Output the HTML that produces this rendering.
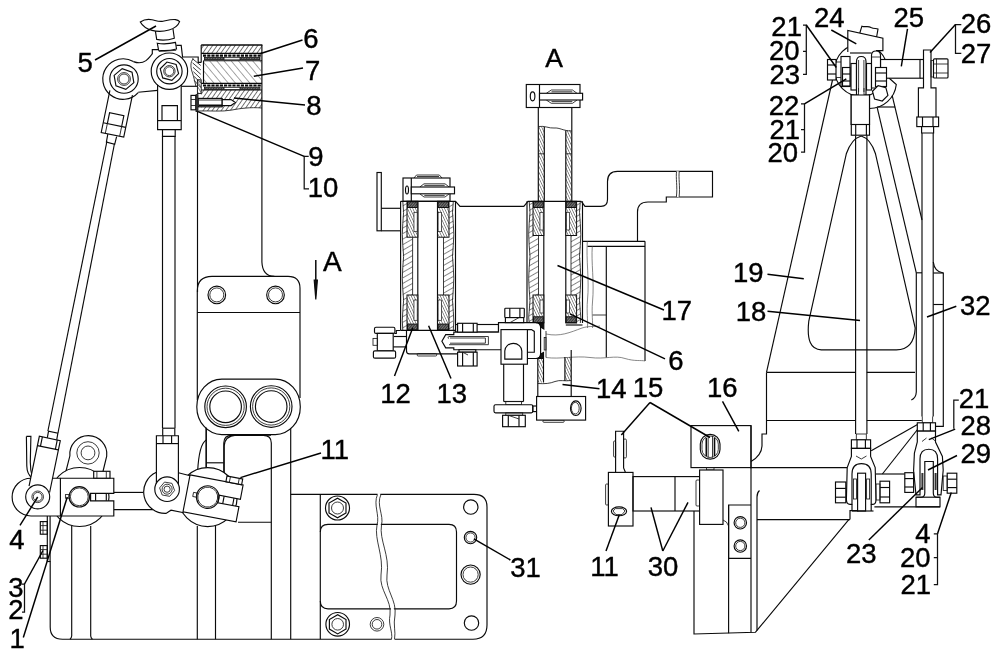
<!DOCTYPE html>
<html><head><meta charset="utf-8"><title>Drawing</title>
<style>
html,body{margin:0;padding:0;background:#fff;}
svg{display:block;will-change:transform}
svg *{vector-effect:none}
.d line,.d path,.d circle,.d rect,.d ellipse,.d polygon{fill:none;stroke:#0a0a0a;stroke-width:1.15;stroke-linecap:butt;stroke-linejoin:miter}
.d .t{stroke-width:.85;stroke:#1a1a1a}
.d .g{stroke-width:.7;stroke:#555}
.d .w{fill:#fff}
.d .k{fill:#111}
.d .ld{stroke-width:1.45;stroke:#000}
.d .bk{stroke-width:1.25;stroke:#111}
.d .hk{stroke-width:1.6}
.d text{font-family:"Liberation Sans",Arial,sans-serif;fill:#000;stroke:#000;stroke-width:.4}
</style></head><body>
<svg class="d" width="1000" height="652" viewBox="0 0 1000 652">
<defs>
<pattern id="h1" width="3.7" height="3.7" patternUnits="userSpaceOnUse" patternTransform="rotate(35)"><line x1="0" y1="0" x2="0" y2="3.7" style="stroke:#111;stroke-width:1.15"/></pattern>
<pattern id="h2" width="5.5" height="5.5" patternUnits="userSpaceOnUse" patternTransform="rotate(-40)"><line x1="0" y1="0" x2="0" y2="5.5" style="stroke:#222;stroke-width:.8"/></pattern>
<pattern id="h3" width="2.6" height="2.6" patternUnits="userSpaceOnUse" patternTransform="rotate(-30)"><line x1="0" y1="0" x2="0" y2="2.6" style="stroke:#111;stroke-width:.9"/></pattern>
<pattern id="h4" width="4.8" height="4.8" patternUnits="userSpaceOnUse" patternTransform="rotate(60)"><line x1="0" y1="0" x2="0" y2="4.8" style="stroke:#111;stroke-width:1"/></pattern>
<pattern id="h6" width="2" height="2" patternUnits="userSpaceOnUse" patternTransform="rotate(40)"><rect width="2" height="2" style="fill:#777;stroke:none"/><line x1="0" y1="0" x2="0" y2="2" style="stroke:#000;stroke-width:1.1"/></pattern>
<pattern id="h5" width="2.4" height="2.4" patternUnits="userSpaceOnUse" patternTransform="rotate(-25)"><line x1="0" y1="0" x2="0" y2="2.4" style="stroke:#111;stroke-width:.9"/></pattern>
</defs>
<rect x="0" y="0" width="1000" height="652" style="fill:#fff;stroke:none"/>
<line x1="261.9" y1="45" x2="261.9" y2="262"/>
<path d="M261.9 262 Q262.5 276.3 274.4 276.3"/>
<line x1="197.5" y1="111" x2="197.5" y2="292"/>
<path d="M197.3 400 V291 Q197.3 276.3 212 276.3 H288 Q300 276.3 300 288.3 V398"/>
<line x1="197.3" y1="312.5" x2="300" y2="312.5"/>
<circle cx="216.8" cy="294.9" r="8.8"/>
<circle cx="216.8" cy="294.9" r="7" class="t"/>
<circle cx="275.5" cy="294.9" r="8.8"/>
<circle cx="275.5" cy="294.9" r="7" class="t"/>
<line x1="206.3" y1="428" x2="206.3" y2="470"/>
<line x1="290.7" y1="428" x2="290.7" y2="639.2"/>
<path d="M223.8 474 V443 Q223.8 435.3 231.8 435.3 H263.3 Q271.3 435.3 271.3 443 V639.2"/>
<line x1="206.3" y1="462.8" x2="223.8" y2="462.8"/>
<path d="M206.3 440 Q199 444 197.6 472"/>
<rect x="196.8" y="379.1" width="103.5" height="55.5" rx="25" ry="27.7" class="w"/>
<circle cx="225.6" cy="406.8" r="20.8"/>
<circle cx="225.6" cy="406.8" r="18.6" class="t"/>
<circle cx="225.6" cy="406.8" r="15.8"/>
<circle cx="271.2" cy="406.5" r="20.8"/>
<circle cx="271.2" cy="406.5" r="18.6" class="t"/>
<circle cx="271.2" cy="406.5" r="15.8"/>
<path d="M50.2 561 V627 Q50.2 639.2 62.5 639.2 H473 Q487 639.2 487 625 V507 Q487 494.4 474 494.4 H290.7"/>
<line x1="71.7" y1="526" x2="71.7" y2="636"/>
<line x1="90.7" y1="526" x2="90.7" y2="636"/>
<path d="M71.7 636 Q71.5 638 70 639.2"/>
<path d="M90.7 636 Q90.9 638 92.4 639.2"/>
<line x1="197.3" y1="526" x2="197.3" y2="639.2"/>
<line x1="215.5" y1="526" x2="215.5" y2="639.2"/>
<line x1="238" y1="522.2" x2="271.3" y2="522.2"/>
<line x1="320.3" y1="494.4" x2="320.3" y2="639.2"/>
<path d="M320.3 532 Q320.3 524.4 328 524.4 H449 Q456.5 524.4 456.5 532 V601 Q456.5 608.8 449 608.8 H328 Q320.3 608.8 320.3 601"/>
<circle cx="337.5" cy="508" r="12"/>
<path d="M345.99 512.9 L337.5 517.8 L329.01 512.9 L329.01 503.1 L337.5 498.2 L345.99 503.1 Z"/>
<circle cx="337.5" cy="508" r="6" class="t"/>
<circle cx="337.7" cy="624.3" r="11.8"/>
<path d="M346.01 629.1 L337.7 633.9 L329.39 629.1 L329.39 619.5 L337.7 614.7 L346.01 619.5 Z"/>
<circle cx="337.7" cy="624.3" r="5.8" class="t"/>
<circle cx="377" cy="624.3" r="6.8" class="t"/>
<circle cx="377" cy="624.3" r="4.8" class="t"/>
<circle cx="470.8" cy="507" r="7.2"/>
<circle cx="470.5" cy="537.5" r="6.2"/>
<circle cx="470.5" cy="537.5" r="4.6" class="t"/>
<circle cx="470.6" cy="574.6" r="9.6"/>
<circle cx="470.6" cy="574.6" r="7.6" class="t"/>
<circle cx="471.5" cy="623" r="7.2"/>
<path d="M379.2 493 C374.5 505 382 515 379.2 525 C376.5 540 387 555 384 575 C382 590 394.5 600 392.5 615 C390.5 625 394.5 632 393 640.5" style="fill:none;stroke:#fff;stroke-width:3"/>
<path d="M377.5 494.4 C373 505 380 515 377 525 C374 540 384 555 381 575 C379 590 392 600 390 615 C388 625 393 632 391.5 639.2" class="t"/>
<path d="M381 494.4 C376 505 384 515 381.5 525 C379 540 390 555 387 575 C385 590 397 600 395 615 C393 625 396 632 394.5 639.2" class="t"/>
<rect x="201.2" y="45" width="60.8" height="8.4" style="fill:url(#h1);stroke:none"/>
<rect x="203.5" y="60.8" width="58" height="22.6" style="fill:url(#h2);stroke:none"/>
<path d="M201.2 90 H262 V108 C250 107 240 108.5 232 110 C222 112 210 110.5 201.2 111 Z" style="fill:url(#h1);stroke:none"/>
<path d="M262 108 C250 107 240 108.5 232 110 C222 112 210 110.5 198.5 111" class="t"/>
<line x1="201.2" y1="45" x2="262.4" y2="45" class="hk"/>
<line x1="201.2" y1="45" x2="201.2" y2="62.4"/>
<line x1="201.2" y1="53.4" x2="262" y2="53.4"/>
<line x1="203.5" y1="60.7" x2="262" y2="60.7"/>
<line x1="201.2" y1="83.4" x2="262" y2="83.4"/>
<line x1="201.2" y1="90" x2="262" y2="90"/>
<line x1="203.5" y1="60.7" x2="203.5" y2="83.4"/>
<line x1="203" y1="55.7" x2="261" y2="55.7" class="hk" style="stroke-width:2.2" stroke-dasharray="3.2 1"/>
<rect x="204.5" y="57.4" width="19.5" height="2.2" style="fill:url(#h6);stroke:#111;stroke-width:.8"/>
<rect x="240" y="57.4" width="20" height="2.2" style="fill:url(#h6);stroke:#111;stroke-width:.8"/>
<line x1="224" y1="57.6" x2="240" y2="57.6" class="t"/>
<line x1="224" y1="59.8" x2="240" y2="59.8" class="t"/>
<line x1="203" y1="85.5" x2="261" y2="85.5" class="hk" style="stroke-width:2.2" stroke-dasharray="3.2 1"/>
<rect x="204.5" y="87.2" width="19.5" height="2.2" style="fill:url(#h6);stroke:#111;stroke-width:.8"/>
<rect x="240" y="87.2" width="20" height="2.2" style="fill:url(#h6);stroke:#111;stroke-width:.8"/>
<line x1="224" y1="87.4" x2="240" y2="87.4" class="t"/>
<line x1="224" y1="89.6" x2="240" y2="89.6" class="t"/>
<rect x="198.2" y="98.4" width="24" height="8.4" class="w"/>
<line x1="199" y1="100" x2="222" y2="100" class="t"/>
<line x1="199" y1="105.3" x2="222" y2="105.3" class="hk"/>
<path d="M222.2 99.6 H231 L235.4 102.6 L231 105.6 H222.2 Z" class="w"/>
<rect x="191" y="95.4" width="4.8" height="14.4" class="w"/>
<line x1="191" y1="99.5" x2="195.8" y2="99.5" class="t"/>
<line x1="191" y1="105.5" x2="195.8" y2="105.5" class="t"/>
<rect x="196" y="94.6" width="2" height="17" style="fill:#444;stroke:#111;stroke-width:.8"/>
<path d="M182 57 H198.2 V62.4 H201.2"/>
<path d="M193.4 58.6 C190 62 190.5 68 192.5 73 C194 78 195 82 195.8 86" class="t"/>
<line x1="192.2" y1="58.5" x2="200.8" y2="65.5" class="t"/>
<line x1="192.6" y1="62.9" x2="200.8" y2="69.9" class="t"/>
<line x1="193" y1="67.3" x2="200.8" y2="74.3" class="t"/>
<line x1="193.4" y1="71.7" x2="200.8" y2="78.7" class="t"/>
<line x1="193.8" y1="76.1" x2="200.8" y2="83.1" class="t"/>
<line x1="194.2" y1="80.5" x2="200.8" y2="87.5" class="t"/>
<rect x="197.4" y="79.8" width="3.8" height="13.8" style="fill:url(#h3);stroke:#111;stroke-width:.9"/>
<line x1="181.4" y1="86.3" x2="197.4" y2="86.3"/>
<path d="M140.3 22 C144 19.5 148 19 152 19.8 C156 20.6 159 22 163 21.2 C167 20.4 171 19.2 175.5 19.6 C177.5 19.9 178.8 20.6 179.6 21.6 C178 26 174 28.6 169 30 C163 31.8 157 31.8 152 30.4 C146.5 28.8 142.5 26 140.3 22 Z" class="w"/>
<path d="M155.4 31.2 L156.7 39.4 Q165 41.2 174.3 38.2 L173 29"/>
<path d="M157.3 43.3 Q166 44.8 175.5 42.4 L176.5 49 Q167 51.6 158.6 50.2 Z"/>
<path d="M152.3 54 V49.6 H158.6"/>
<path d="M176.3 45.4 H181.2 L182.6 57.4"/>
<line x1="158.8" y1="51.5" x2="176.2" y2="50.3" class="t"/>
<path d="M47.3 437.9 L48.5 431.3 L57.9 433.2 L56.7 439.9"/>
<line x1="106.9" y1="141.5" x2="47.9" y2="431"/>
<line x1="114.5" y1="143.5" x2="58" y2="433"/>
<path d="M107.8 134.2 L106.4 142 L114.7 144.4 L116.6 136.6"/>
<g transform="rotate(11.66 124 79)">
<path d="M112.5 93 V136 H135.5 V93" class="w"/>
<line x1="112.5" y1="126" x2="135.5" y2="126"/>
<path d="M116.7 126 V115 H131.3 V126"/>
<line x1="116.7" y1="126" x2="116.7" y2="136" class="t"/>
<line x1="131.3" y1="126" x2="131.3" y2="136" class="t"/>
</g>
<path d="M133.4 61.6 A20.3 20.3 0 1 0 138.2 92.6"/>
<circle cx="124" cy="79" r="14.2" class="w"/>
<path d="M133.87 82.59 L125.82 89.34 L115.96 85.75 L114.13 75.41 L122.18 68.66 L132.04 72.25 Z"/>
<circle cx="124" cy="79" r="6.4" class="t"/>
<circle cx="124" cy="79" r="5" class="t"/>
<path d="M133.4 61.6 C137 63 142 63.4 146 60.6 C149 58.4 150.5 55.6 152.3 54"/>
<line x1="138.2" y1="92.2" x2="157.6" y2="90.4"/>
<path d="M157.6 84 V129.6 H181.2 V84" class="w"/>
<line x1="157.6" y1="120.6" x2="181.2" y2="120.6"/>
<path d="M162 120.6 V105.6 H177.4 V120.6"/>
<path d="M162.5 129.6 V136.3 H175.2 V129.6"/>
<line x1="162.5" y1="136.3" x2="162.5" y2="428.2"/>
<line x1="175" y1="136.3" x2="175" y2="428.2"/>
<circle cx="169.4" cy="71.2" r="18.2" class="w"/>
<circle cx="169.4" cy="71.2" r="12.7"/>
<path d="M178.58 73.66 L171.86 80.38 L162.68 77.92 L160.22 68.74 L166.94 62.02 L176.12 64.48 Z"/>
<circle cx="169.4" cy="71.2" r="5.7" class="t"/>
<circle cx="169.4" cy="71.2" r="4.4" class="t"/>
<line x1="113.8" y1="492.4" x2="143.5" y2="492.4"/>
<line x1="113.8" y1="509.6" x2="153" y2="509.6"/>
<path d="M65.5 473 L69.9 455.8 A18.5 18.5 0 1 1 106.7 456.2 L102.6 473" class="w"/>
<circle cx="88" cy="452.9" r="11.2" class="t"/>
<circle cx="88" cy="452.9" r="6.9" class="t"/>
<circle cx="79.5" cy="497" r="29.5" class="w"/>
<path d="M60.4 478.2 H31 A18.9 18.9 0 0 0 31 516 H60.4" class="w"/>
<path d="M60.4 478.2 H113.8 V493.3 H90.6 V500.8 H113.8 V516 H60.4 Z" class="w"/>
<line x1="95.6" y1="493.3" x2="95.6" y2="500.8"/>
<line x1="106.3" y1="493.3" x2="106.3" y2="500.8"/>
<rect x="93.7" y="471.3" width="16.3" height="6.9" class="w"/>
<line x1="96.9" y1="471.3" x2="96.9" y2="478.2" class="t"/>
<line x1="106.3" y1="471.3" x2="106.3" y2="478.2" class="t"/>
<circle cx="79.3" cy="496.8" r="10.2"/>
<circle cx="79.3" cy="496.8" r="8.9" class="t"/>
<rect x="65.4" y="494.6" width="3.6" height="3.6" class="t"/>
<path d="M26.4 436.4 H30.9 L30.3 462 Q30.2 470 32.5 477.6 M26.4 436.4 L26.8 466 Q27 474 32 478"/>
<g transform="rotate(11.66 124 79)">
<path d="M113.3 497 V446 H134.7 V499" class="w"/>
<line x1="113.3" y1="455.5" x2="134.7" y2="455.5"/>
<line x1="116.4" y1="446" x2="116.4" y2="455.5"/>
<line x1="131.6" y1="446" x2="131.6" y2="455.5"/>
</g>
<circle cx="37.7" cy="496.8" r="12" class="w"/>
<circle cx="37.7" cy="496.8" r="5.8" class="t"/>
<circle cx="37.7" cy="496.8" r="4.4" class="t"/>
<line x1="47.3" y1="516" x2="47.3" y2="561.5"/>
<line x1="50.1" y1="516" x2="50.1" y2="561.5"/>
<line x1="47.3" y1="561.5" x2="50.1" y2="561.5"/>
<rect x="40.3" y="521.6" width="7" height="12.6"/>
<line x1="40.3" y1="525.6" x2="47.3" y2="525.6" class="t"/>
<line x1="40.3" y1="530.2" x2="47.3" y2="530.2" class="t"/>
<line x1="43" y1="521.6" x2="43" y2="534.2" class="t"/>
<rect x="40.3" y="545.6" width="7" height="12.6"/>
<line x1="40.3" y1="549.6" x2="47.3" y2="549.6" class="t"/>
<line x1="40.3" y1="554.2" x2="47.3" y2="554.2" class="t"/>
<line x1="43" y1="545.6" x2="43" y2="558.2" class="t"/>
<line x1="206.1" y1="427.5" x2="206.1" y2="468.4"/>
<path d="M224.2 476 V446 Q224.6 436 236 435.1 H271"/>
<circle cx="207.7" cy="497.1" r="29.5" class="w"/>
<path d="M156.4 472.3 A21.5 21.5 0 0 0 162.5 513.4 L171 510 L183.8 512.8 L190.1 475.7 L178.4 472.8 Z" style="fill:#fff;stroke:none"/>
<path d="M156.4 472.3 A21.5 21.5 0 0 0 166 513.4 L171 510.2 L183.8 512.8"/>
<line x1="178.4" y1="472.8" x2="190.1" y2="475.7"/>
<path d="M156.4 484 V435.7 H178.4 V484" class="w"/>
<line x1="156.4" y1="443.6" x2="178.4" y2="443.6"/>
<line x1="163" y1="435.7" x2="163" y2="443.6"/>
<line x1="171.6" y1="435.7" x2="171.6" y2="443.6"/>
<line x1="162.7" y1="428.2" x2="174.8" y2="428.2"/>
<line x1="162.7" y1="428.2" x2="162.7" y2="435.7"/>
<line x1="174.8" y1="428.2" x2="174.8" y2="435.7"/>
<circle cx="167.1" cy="489.2" r="12.3" class="w"/>
<path d="M174.58 490.52 L169.7 496.34 L162.21 495.02 L159.62 487.88 L164.5 482.06 L171.99 483.38 Z" class="t"/>
<circle cx="167.1" cy="489.2" r="5" class="t"/>
<circle cx="167.1" cy="489.2" r="3.1" class="t"/>
<g transform="rotate(10.8 207.7 497.1)">
<path d="M186.2 478.6 H240.2 V493.1 H218.7 V500.70000000000005 H240.2 V516.1 H186.2 Z" class="w"/>
<line x1="223.7" y1="493.1" x2="223.7" y2="500.7"/>
<line x1="233.7" y1="493.1" x2="233.7" y2="500.7"/>
<rect x="222.7" y="472.8" width="16" height="5.8" class="w"/>
<line x1="226.2" y1="472.8" x2="226.2" y2="478.6" class="t"/>
<line x1="235.2" y1="472.8" x2="235.2" y2="478.6" class="t"/>
<circle cx="207.7" cy="497.1" r="11.3"/>
<circle cx="207.7" cy="497.1" r="10" class="t"/>
<rect x="192.9" y="495.1" width="3.8" height="4.2" class="t"/>
</g>
<line x1="582.5" y1="241.3" x2="645" y2="241.3"/>
<line x1="587.5" y1="246.3" x2="645" y2="246.3"/>
<line x1="645" y1="241.3" x2="645" y2="361"/>
<line x1="606.3" y1="246.3" x2="606.3" y2="357.5"/>
<line x1="592.5" y1="315" x2="606.3" y2="315" class="t"/>
<path d="M587.3 241.3 C586 260 589.5 280 587.5 300 C586.5 312 588 320 587.5 328" class="g"/>
<path d="M592.3 246.3 C591 262 594.5 282 592.5 302 C591.5 314 593 322 592.5 328" class="g"/>
<path d="M546 334 C560 337 570 332.5 582 328 C590 325.5 596 327 600 326" class="g"/>
<path d="M546 357.5 C560 359.5 575 355.5 590 357.5 C605 359.5 615 355 625 358.5 C635 361.5 641 360 645 361" class="g"/>
<line x1="546" y1="331" x2="546" y2="357.5" class="t"/>
<rect x="544.2" y="337.5" width="1.8" height="12.5" class="t"/>
<path d="M581.3 201.3 L585 206.3 H601 Q607.5 206.3 607.5 199.5 V181.5 Q607.5 171.3 617.5 171.3 H712.5 V197 H666.3 V202 H648 Q637.5 202 637.5 212 V241.3"/>
<path d="M677.8 171.3 C676.8 178 678.8 186 677.6 197" style="fill:none;stroke:#fff;stroke-width:3"/>
<path d="M676.6 171.3 C675.6 178 677.6 186 676.4 197" class="t"/>
<path d="M679.3 171.3 C678.3 178 680.3 186 679.1 197" class="t"/>
<line x1="538.3" y1="107.5" x2="538.3" y2="201.3"/>
<line x1="571.8" y1="107.5" x2="571.8" y2="201.3"/>
<rect x="538.3" y="127" width="6" height="74.3" style="fill:url(#h5);stroke:none"/>
<rect x="565.8" y="130" width="6" height="71.3" style="fill:url(#h5);stroke:none"/>
<line x1="544.3" y1="127" x2="544.3" y2="201.3"/>
<line x1="565.8" y1="130.5" x2="565.8" y2="201.3"/>
<path d="M538.3 126.5 C545 125.5 549 128.5 554 128 C560 127.5 563 131 571.8 131" class="t"/>
<line x1="538.3" y1="153.8" x2="544.3" y2="153.8" class="t"/>
<line x1="565.8" y1="153.8" x2="571.8" y2="153.8" class="t"/>
<rect x="526.3" y="84.5" width="53.7" height="23" class="w"/>
<line x1="539.5" y1="84.5" x2="539.5" y2="107.5"/>
<ellipse cx="532.6" cy="96.3" rx="2.3" ry="4.5"/>
<path d="M546.3 93.3 L551.3 90 H572.5 L577 93.3" class="t"/>
<line x1="551.5" y1="91.8" x2="572.3" y2="91.8" class="t"/>
<path d="M546.3 100 L551.3 103.3 H572.5 L577 100" class="t"/>
<line x1="551.5" y1="101.6" x2="572.3" y2="101.6" class="t"/>
<rect x="539.5" y="93.3" width="43.1" height="6.7" class="w"/>
<rect x="377" y="172.5" width="4.3" height="58.3"/>
<line x1="381.3" y1="208.3" x2="400.5" y2="208.3"/>
<line x1="381.3" y1="230.8" x2="400.5" y2="230.8"/>
<path d="M414 178 L416.5 175 H439.3 L442 178" class="t"/>
<line x1="417" y1="176.5" x2="439" y2="176.5" class="t"/>
<rect x="403" y="178" width="47" height="23.3" class="w"/>
<line x1="411.3" y1="178" x2="411.3" y2="201.3"/>
<ellipse cx="407" cy="190" rx="1.5" ry="4"/>
<path d="M419.8 187 L424 183.8 H445 L449.2 187" class="t"/>
<line x1="424.3" y1="185.4" x2="444.7" y2="185.4" class="t"/>
<path d="M419.8 193.8 L424 197 H445 L449.2 193.8" class="t"/>
<line x1="424.3" y1="195.4" x2="444.7" y2="195.4" class="t"/>
<rect x="411.3" y="187" width="43.2" height="6.8" class="w"/>
<rect x="402.8" y="201.3" width="9.8" height="129" style="fill:url(#h4);stroke:none"/>
<rect x="443.5" y="201.3" width="9.8" height="129" style="fill:url(#h4);stroke:none"/>
<path d="M402.8 201.3 Q404.4 212.3 402.8 223.3 Q401.8 234.3 402.8 245.3 Q404.4 256.3 402.8 267.3 Q401.8 278.3 402.8 289.3 Q404.4 300.3 402.8 311.3 Q401.8 320.8 402.8 330.3" class="t"/>
<path d="M453.3 201.3 Q451.7 212.3 453.3 223.3 Q454.3 234.3 453.3 245.3 Q451.7 256.3 453.3 267.3 Q454.3 278.3 453.3 289.3 Q451.7 300.3 453.3 311.3 Q454.3 320.8 453.3 330.3" class="t"/>
<line x1="400.6" y1="201.3" x2="400.6" y2="330.3"/>
<line x1="455.5" y1="201.3" x2="455.5" y2="330.3"/>
<line x1="417.8" y1="201.3" x2="417.8" y2="330.3"/>
<line x1="437.5" y1="201.3" x2="437.5" y2="330.3"/>
<line x1="412.6" y1="237.2" x2="412.6" y2="295" class="t"/>
<line x1="443.5" y1="237.2" x2="443.5" y2="295" class="t"/>
<rect x="407" y="201.3" width="10.8" height="35.9" style="fill:#fff;stroke:none"/>
<rect x="407" y="201.3" width="10.8" height="35.9" style="fill:url(#h5);stroke:none"/>
<rect x="407" y="201.3" width="10.8" height="35.9" style="stroke-width:1;stroke:#111"/>
<rect x="413.96" y="212.3" width="3.24" height="19.4" style="fill:#fff;stroke:#111;stroke-width:.7"/>
<rect x="407.5" y="201.8" width="9.8" height="5.7" style="fill:url(#h6);stroke:#111;stroke-width:1"/>
<rect x="437.5" y="201.3" width="11.5" height="35.9" style="fill:#fff;stroke:none"/>
<rect x="437.5" y="201.3" width="11.5" height="35.9" style="fill:url(#h5);stroke:none"/>
<rect x="437.5" y="201.3" width="11.5" height="35.9" style="stroke-width:1;stroke:#111"/>
<rect x="438.1" y="212.3" width="3.45" height="19.4" style="fill:#fff;stroke:#111;stroke-width:.7"/>
<rect x="438" y="201.8" width="10.5" height="5.7" style="fill:url(#h6);stroke:#111;stroke-width:1"/>
<rect x="407" y="295" width="10.8" height="35.3" style="fill:#fff;stroke:none"/>
<rect x="407" y="295" width="10.8" height="35.3" style="fill:url(#h5);stroke:none"/>
<rect x="407" y="295" width="10.8" height="35.3" style="stroke-width:1;stroke:#111"/>
<rect x="413.96" y="300" width="3.24" height="20.3" style="fill:#fff;stroke:#111;stroke-width:.7"/>
<rect x="407.5" y="324.1" width="9.8" height="5.7" style="fill:url(#h6);stroke:#111;stroke-width:1"/>
<rect x="437.5" y="295" width="11.5" height="35.3" style="fill:#fff;stroke:none"/>
<rect x="437.5" y="295" width="11.5" height="35.3" style="fill:url(#h5);stroke:none"/>
<rect x="437.5" y="295" width="11.5" height="35.3" style="stroke-width:1;stroke:#111"/>
<rect x="438.1" y="300" width="3.45" height="20.3" style="fill:#fff;stroke:#111;stroke-width:.7"/>
<rect x="438" y="324.1" width="10.5" height="5.7" style="fill:url(#h6);stroke:#111;stroke-width:1"/>
<rect x="529.2" y="201.3" width="9.3" height="121.7" style="fill:url(#h4);stroke:none"/>
<rect x="571" y="201.3" width="9.3" height="121.7" style="fill:url(#h4);stroke:none"/>
<path d="M529.2 201.3 Q530.8 212.3 529.2 223.3 Q528.2 234.3 529.2 245.3 Q530.8 256.3 529.2 267.3 Q528.2 278.3 529.2 289.3 Q530.8 300.3 529.2 311.3 Q528.2 317.15 529.2 323" class="t"/>
<path d="M580.3 201.3 Q578.7 212.3 580.3 223.3 Q581.3 234.3 580.3 245.3 Q578.7 256.3 580.3 267.3 Q581.3 278.3 580.3 289.3 Q578.7 300.3 580.3 311.3 Q581.3 317.15 580.3 323" class="t"/>
<line x1="527" y1="201.3" x2="527" y2="323"/>
<line x1="582.5" y1="201.3" x2="582.5" y2="323"/>
<line x1="543.8" y1="201.3" x2="543.8" y2="323"/>
<line x1="565.8" y1="201.3" x2="565.8" y2="323"/>
<line x1="538.5" y1="235.5" x2="538.5" y2="295" class="t"/>
<line x1="571" y1="235.5" x2="571" y2="295" class="t"/>
<rect x="533" y="201.3" width="10.8" height="34.2" style="fill:#fff;stroke:none"/>
<rect x="533" y="201.3" width="10.8" height="34.2" style="fill:url(#h5);stroke:none"/>
<rect x="533" y="201.3" width="10.8" height="34.2" style="stroke-width:1;stroke:#111"/>
<rect x="539.96" y="212.3" width="3.24" height="17.7" style="fill:#fff;stroke:#111;stroke-width:.7"/>
<rect x="533.5" y="201.8" width="9.8" height="5.7" style="fill:url(#h6);stroke:#111;stroke-width:1"/>
<rect x="565.8" y="201.3" width="10.8" height="34.2" style="fill:#fff;stroke:none"/>
<rect x="565.8" y="201.3" width="10.8" height="34.2" style="fill:url(#h5);stroke:none"/>
<rect x="565.8" y="201.3" width="10.8" height="34.2" style="stroke-width:1;stroke:#111"/>
<rect x="566.4" y="212.3" width="3.24" height="17.7" style="fill:#fff;stroke:#111;stroke-width:.7"/>
<rect x="566.3" y="201.8" width="9.8" height="5.7" style="fill:url(#h6);stroke:#111;stroke-width:1"/>
<rect x="533" y="295" width="10.8" height="28" style="fill:#fff;stroke:none"/>
<rect x="533" y="295" width="10.8" height="28" style="fill:url(#h5);stroke:none"/>
<rect x="533" y="295" width="10.8" height="28" style="stroke-width:1;stroke:#111"/>
<rect x="539.96" y="300" width="3.24" height="13" style="fill:#fff;stroke:#111;stroke-width:.7"/>
<rect x="533.5" y="316.8" width="9.8" height="5.7" style="fill:url(#h6);stroke:#111;stroke-width:1"/>
<rect x="565.8" y="295" width="10.8" height="28" style="fill:#fff;stroke:none"/>
<rect x="565.8" y="295" width="10.8" height="28" style="fill:url(#h5);stroke:none"/>
<rect x="565.8" y="295" width="10.8" height="28" style="stroke-width:1;stroke:#111"/>
<rect x="566.4" y="300" width="3.24" height="13" style="fill:#fff;stroke:#111;stroke-width:.7"/>
<rect x="566.3" y="316.8" width="9.8" height="5.7" style="fill:url(#h6);stroke:#111;stroke-width:1"/>
<path d="M400.6 201.3 H455.5 L460 206.3 H523.8 L528 201.3 H581.3"/>
<line x1="400.6" y1="330.3" x2="455.5" y2="330.3"/>
<line x1="527" y1="323" x2="543.8" y2="323"/>
<line x1="565.8" y1="325" x2="582.5" y2="325"/>
<line x1="570" y1="313.8" x2="665" y2="358.8" class="ld"/>
<rect x="374.5" y="327.2" width="20.4" height="6.2" rx="1.5" class="w"/>
<rect x="377.3" y="333.4" width="15.9" height="17.4" class="w"/>
<rect x="373.4" y="350.8" width="22.2" height="7.4" rx="1.5" class="w"/>
<rect x="373" y="338.4" width="4.6" height="6.9" class="t"/>
<path d="M394.5 333.5 H396.3 V330.5 H400.6"/>
<line x1="393.9" y1="336.5" x2="406.5" y2="336.5"/>
<line x1="393.2" y1="346.9" x2="406.5" y2="346.9"/>
<path d="M406.5 330.5 V351 Q406.5 353.8 409.3 353.8 H457.6"/>
<rect x="417.2" y="353.5" width="19.5" height="2.5" rx="1" class="t"/>
<rect x="455.6" y="324.5" width="42.9" height="7.6" class="w"/>
<path d="M501 332.1 H453.8 V334.6 H445.7 L441.9 341.3 L445.7 347.8 H453.8 V349.7 H501" class="w"/>
<path d="M449 336.5 H488.4 V344.7 H449" class="t"/>
<path d="M450 338 H485.4 V343.2 H450" class="t"/>
<path d="M449 336.5 Q446.5 337.5 449 338.5" class="t"/>
<rect x="457.6" y="323.3" width="19.5" height="8.8" class="w"/>
<line x1="462.6" y1="323.3" x2="462.6" y2="332.1"/>
<line x1="473.3" y1="323.3" x2="473.3" y2="332.1"/>
<rect x="459" y="349.7" width="16.8" height="2.5" class="w"/>
<rect x="457.6" y="352.2" width="19.5" height="13.8" class="w"/>
<line x1="462.6" y1="352.2" x2="462.6" y2="366"/>
<line x1="473.3" y1="352.2" x2="473.3" y2="366"/>
<line x1="462.6" y1="352.2" x2="468" y2="355" class="t"/>
<line x1="537.8" y1="358.5" x2="537.8" y2="396.5"/>
<line x1="571.2" y1="350" x2="571.2" y2="396.5"/>
<rect x="537.8" y="358.5" width="5.7" height="24" style="fill:url(#h5);stroke:none"/>
<rect x="564.9" y="357" width="6.3" height="24" style="fill:url(#h5);stroke:none"/>
<line x1="543.5" y1="358.5" x2="543.5" y2="382.5"/>
<line x1="564.9" y1="357" x2="564.9" y2="381"/>
<path d="M537.8 383.5 C545 384 550 383.5 555 381.5 C560 379.5 565 381.5 571.2 380.5" class="t"/>
<path d="M498.5 332.1 V322.6 H536 Q540.6 322.6 540.6 327 V354 Q540.6 358.5 536 358.5 H527.4" class="w"/>
<path d="M536 322.6 Q540.6 322.6 540.6 327 L543.8 329 V323 Z" class="k"/>
<path d="M536 358.5 Q540.6 358.5 540.6 354 L543.5 352.5 V358.5 Z" class="k"/>
<rect x="501" y="329.6" width="26.4" height="34.6" class="w"/>
<path d="M527.4 329.6 H531.5 L534.3 331.4 V352.2 H527.4"/>
<path d="M504.8 359.1 V351 A8.5 7.6 0 0 1 521.8 351 V359.1 Z"/>
<rect x="504.8" y="308.2" width="19.5" height="9.4" rx="0.8" class="w"/>
<line x1="509.8" y1="308.2" x2="509.8" y2="317.6"/>
<line x1="519.9" y1="308.2" x2="519.9" y2="317.6"/>
<rect x="505.4" y="317.6" width="18.3" height="5" class="w"/>
<line x1="510" y1="322.6" x2="519" y2="317.6" class="t"/>
<line x1="503.7" y1="364.2" x2="503.7" y2="401.5"/>
<line x1="523.5" y1="364.2" x2="523.5" y2="401.5"/>
<line x1="503.7" y1="401.5" x2="523.5" y2="401.5"/>
<rect x="505.8" y="401.5" width="15.7" height="3.2" class="t"/>
<rect x="494" y="404.7" width="38.8" height="8.1" rx="1.5" class="w"/>
<rect x="532.8" y="406" width="3.8" height="5.6"/>
<rect x="505.8" y="412.8" width="16.9" height="2.5" class="t"/>
<rect x="502.6" y="415.3" width="22.7" height="11.4" class="w"/>
<line x1="508.3" y1="415.3" x2="508.3" y2="426.7"/>
<line x1="519" y1="415.3" x2="519" y2="426.7"/>
<line x1="508.3" y1="415.3" x2="519" y2="419" class="t"/>
<rect x="542.9" y="420.1" width="21.3" height="2.2" rx="1" class="t"/>
<rect x="536.6" y="396.5" width="49" height="23.6" class="w"/>
<ellipse cx="575.8" cy="408.2" rx="5.3" ry="7.3"/>
<ellipse cx="575.3" cy="408.2" rx="3.9" ry="5.8" class="t"/>
<line x1="832.5" y1="80" x2="766.5" y2="372.4"/>
<line x1="766.5" y1="372.4" x2="855.5" y2="372.4"/>
<line x1="866.8" y1="372.4" x2="915" y2="372.4"/>
<path d="M766.5 372.4 V434 H762 V446 Q761.5 455.5 751 461.5"/>
<line x1="766.5" y1="420.5" x2="855.5" y2="420.5"/>
<line x1="866.8" y1="420.5" x2="921.8" y2="420.5"/>
<line x1="750" y1="467.6" x2="847.5" y2="467.6"/>
<path d="M757 630.5 V497 Q757 492.5 759.5 490.5"/>
<line x1="757" y1="519.6" x2="850" y2="519.6"/>
<path d="M850 519.6 V510.6 H858.5"/>
<path d="M861.2 136 C854 138 849 146 846.3 153.8 L808.8 321 Q805.5 349.8 821.3 349.8 H896.3 Q914 349.8 915.2 328 L875.5 153.8 C873 146 868 138 861.2 136"/>
<line x1="877.2" y1="107.6" x2="916.3" y2="272.8"/>
<line x1="892.2" y1="95.6" x2="922" y2="220"/>
<line x1="877.2" y1="107" x2="895.2" y2="107"/>
<path d="M916.3 272.8 H922"/>
<path d="M916.3 272.8 V392 Q916 398 911.3 400"/>
<path d="M933.3 262 Q934.5 272 943.3 273 V426.3 H935.5"/>
<line x1="933.3" y1="273" x2="943.3" y2="273"/>
<line x1="933.3" y1="304.5" x2="943.3" y2="304.5"/>
<line x1="855.6" y1="135.2" x2="855.6" y2="434"/>
<line x1="866.9" y1="135.2" x2="866.9" y2="434"/>
<line x1="922" y1="133" x2="922" y2="416.4"/>
<line x1="933.2" y1="133" x2="933.2" y2="416.4"/>
<circle cx="861" cy="70" r="26.3" class="w"/>
<path d="M889 78 L896.3 84.5 A27 27 0 0 1 869.5 108.5"/>
<path d="M847.8 52 V30.4 L882.9 38.1 V50.6 H876" class="w"/>
<path d="M859.8 33 L861.9 26.2 C865 27.5 868 25.5 871 27.5 C874 29.2 876 28 878 29 L876.6 37"/>
<line x1="850" y1="53" x2="871.5" y2="53"/>
<rect x="880.5" y="59.5" width="39.5" height="18.7" class="w"/>
<path d="M918.4 117 V87.8 H923.5 V50 H931 V87.8 H936 V117" class="w"/>
<line x1="920" y1="59.5" x2="923.5" y2="59.5"/>
<line x1="920" y1="78.2" x2="923.5" y2="78.2"/>
<rect x="916.8" y="117" width="21.8" height="9.6" class="w"/>
<line x1="922.5" y1="117" x2="922.5" y2="126.6"/>
<line x1="933" y1="117" x2="933" y2="126.6"/>
<path d="M921.6 126.6 V133 H933.6 V126.6"/>
<rect x="931" y="60.5" width="2.5" height="16.5" class="t"/>
<rect x="933.5" y="58.8" width="14.5" height="19.2" rx="1" class="w"/>
<line x1="933.5" y1="64" x2="948" y2="64" class="t"/>
<line x1="933.5" y1="73" x2="948" y2="73" class="t"/>
<line x1="936.5" y1="58.8" x2="936.5" y2="78" class="t"/>
<rect x="827.5" y="59.5" width="8.5" height="20.5" class="w"/>
<line x1="827.5" y1="65" x2="836" y2="65"/>
<line x1="827.5" y1="74" x2="836" y2="74"/>
<line x1="836" y1="62" x2="841" y2="62" class="t"/>
<line x1="836" y1="77.5" x2="841" y2="77.5" class="t"/>
<rect x="841" y="56.5" width="9" height="30" class="w"/>
<rect x="842.5" y="67.5" width="7.5" height="18.5" class="w"/>
<line x1="842.5" y1="74" x2="850" y2="74"/>
<line x1="842.5" y1="81" x2="850" y2="81"/>
<rect x="851" y="63.5" width="5.5" height="26.5" class="w"/>
<rect x="866.5" y="63.5" width="5" height="26.5" class="w"/>
<path d="M871.5 88 V55.5 Q871.5 51 876 51 Q880.5 51 880.5 55.5 V88 Z" class="w"/>
<line x1="871.5" y1="57" x2="880.5" y2="57" class="t"/>
<rect x="875.5" y="67.5" width="11" height="19" class="w"/>
<line x1="875.5" y1="73" x2="886.5" y2="73"/>
<line x1="875.5" y1="81" x2="886.5" y2="81"/>
<path d="M887.93 95.37 L882.27 101.03 L874.54 98.96 L872.47 91.23 L878.13 85.57 L885.86 87.64 Z" class="w"/>
<path d="M856.5 95 V61.5 Q856.5 56.5 861.2 56.5 Q866 56.5 866 61.5 V95" class="w"/>
<line x1="858.6" y1="60" x2="858.6" y2="92" class="t"/>
<line x1="863.9" y1="60" x2="863.9" y2="92" class="t"/>
<path d="M851.2 124.5 V95 H858.5 M864 95 H869.5 V124.5" class="w"/>
<rect x="851.2" y="124.5" width="18.3" height="0"/>
<path d="M851.2 95 H869.5 V124.5 H851.2 Z" class="w"/>
<path d="M858.5 95 V88 M864 95 V88" class="t"/>
<rect x="851.3" y="124.5" width="18.2" height="10.7" class="w"/>
<line x1="855.7" y1="124.5" x2="855.7" y2="135.2"/>
<line x1="866.4" y1="124.5" x2="866.4" y2="135.2"/>
<rect x="856.3" y="434" width="10" height="5.8" class="t"/>
<rect x="851.4" y="439.8" width="19.2" height="8.6" class="w"/>
<line x1="857" y1="439.8" x2="857" y2="448.4"/>
<line x1="865.4" y1="439.8" x2="865.4" y2="448.4"/>
<path d="M851.4 448.4 V456.4 L847.2 467.6 L846.4 499.6 Q846.4 504.4 850 504.4 H852 V474 Q852 463.6 861.4 463.6 Q871.2 463.6 871.2 474 V504.4 H873 Q876 504.4 876 499.6 L875.2 467.6 L870.6 456.4 V448.4 Z" class="w"/>
<path d="M856 456 L861.3 459 L866.5 456" class="t"/>
<rect x="857.6" y="473.2" width="8" height="37.8" class="w"/>
<line x1="852" y1="511" x2="873.5" y2="511"/>
<line x1="852" y1="504.4" x2="852" y2="511"/>
<line x1="871.2" y1="504.4" x2="871.2" y2="511"/>
<rect x="835.5" y="482" width="10.3" height="20.8" class="w"/>
<line x1="835.5" y1="488.4" x2="845.8" y2="488.4"/>
<line x1="835.5" y1="497.2" x2="845.8" y2="497.2"/>
<rect x="880" y="481.2" width="9.6" height="21.6" class="w"/>
<line x1="880" y1="487.5" x2="889.6" y2="487.5"/>
<line x1="880" y1="497" x2="889.6" y2="497"/>
<rect x="876" y="484" width="4" height="16" class="t"/>
<rect x="853.5" y="479" width="3" height="20" class="t"/>
<rect x="866.6" y="479" width="3" height="20" class="t"/>
<line x1="871.2" y1="450.8" x2="917.5" y2="424.4"/>
<line x1="882.4" y1="474" x2="917.5" y2="429.5"/>
<line x1="876" y1="474" x2="904.8" y2="474"/>
<line x1="874.4" y1="506.8" x2="940" y2="506.8"/>
<path d="M922.3 416.4 V422.8 H932.6 V416.4" class="t"/>
<rect x="917.3" y="422.8" width="18.2" height="8.3" class="w"/>
<line x1="923.2" y1="422.8" x2="923.2" y2="431.1"/>
<line x1="930.4" y1="422.8" x2="930.4" y2="431.1"/>
<path d="M917.3 431.1 V442 L914.4 453.2 L913.6 470.8 L916 494.8 H920 V459 Q920 449.2 928.8 449.2 Q937.6 449.2 937.6 459 V494.8 H941 L943.2 470 L942.4 456.4 L935.5 442 V431.1 Z" class="w"/>
<path d="M922 441.5 L926.5 438 M931.5 438 L936 441.5" class="t"/>
<path d="M916 497.2 H921 Q924.8 497.2 924.8 493 V461.5 H933.3 V493 Q933.3 497.2 937 497.2 H940" class="w"/>
<rect x="916" y="497.2" width="24" height="9.6"/>
<rect x="904.8" y="472.7" width="8.8" height="19.7" class="w"/>
<line x1="904.8" y1="478.6" x2="913.6" y2="478.6"/>
<line x1="904.8" y1="487" x2="913.6" y2="487"/>
<rect x="947.2" y="473.2" width="9.6" height="20" class="w"/>
<line x1="947.2" y1="479.2" x2="956.8" y2="479.2"/>
<line x1="947.2" y1="487.6" x2="956.8" y2="487.6"/>
<rect x="943.2" y="476" width="4" height="14.5" class="t"/>
<rect x="921.4" y="473" width="2" height="17" style="fill:#333;stroke:none"/>
<rect x="934.6" y="473" width="2" height="17" style="fill:#333;stroke:none"/>
<line x1="751" y1="425.6" x2="751" y2="632.3"/>
<rect x="691" y="425.6" width="60" height="42"/>
<rect x="700.3" y="434.3" width="19.7" height="24.9" rx="9.8"/>
<rect x="702" y="436" width="16.3" height="21.5" rx="8.1" class="t"/>
<line x1="706.3" y1="438" x2="706.3" y2="456" class="hk"/>
<line x1="708.2" y1="436" x2="708.2" y2="457.5" class="t"/>
<line x1="712.5" y1="436" x2="712.5" y2="457.5" class="t"/>
<line x1="714.5" y1="438" x2="714.5" y2="456" class="hk"/>
<rect x="706.5" y="467.6" width="7.5" height="2.4" class="t"/>
<rect x="613.6" y="441" width="2" height="16" rx="1" class="t"/>
<rect x="623.6" y="439" width="2.8" height="19" rx="1.2" class="t"/>
<path d="M615.6 472.4 V431.2 H623.6 V468 L625.5 472.4"/>
<rect x="605.6" y="484" width="2.8" height="21" rx="1" class="t"/>
<rect x="608.4" y="472.4" width="24.6" height="53.6" class="w"/>
<ellipse cx="619" cy="511.3" rx="7.6" ry="4.4"/>
<path d="M613 511 L615.5 508.6 H622.5 L625 511 L622 514.6 H616 Z" class="t"/>
<rect x="633" y="476.6" width="66.6" height="34.4"/>
<line x1="675" y1="476.6" x2="675" y2="511"/>
<rect x="696" y="480" width="3.6" height="26" rx="1" class="t"/>
<rect x="699.6" y="470" width="23.4" height="54.4" class="w"/>
<path d="M694 511 V634 L755.5 632.2 L848.8 519.6"/>
<line x1="728.6" y1="505" x2="728.6" y2="633.2"/>
<path d="M723 520 Q727 521 728.6 526" class="t"/>
<path d="M751 505 H728.6 V558.3 H751"/>
<circle cx="740.3" cy="522.8" r="6.2"/>
<circle cx="740.3" cy="522.8" r="4.6" class="t"/>
<circle cx="740.3" cy="546" r="6.2"/>
<circle cx="740.3" cy="546" r="4.6" class="t"/>
<text x="77.55" y="72.05" font-size="27.5">5</text>
<line x1="95" y1="60" x2="156" y2="26" class="ld"/>
<text x="303.15" y="48.25" font-size="27.5">6</text>
<line x1="260" y1="53.8" x2="302.5" y2="40" class="ld"/>
<text x="305" y="80.15" font-size="27.5">7</text>
<line x1="253.8" y1="76.3" x2="303" y2="68" class="ld"/>
<text x="306.25" y="114.9" font-size="27.5">8</text>
<line x1="234" y1="98" x2="305" y2="105" class="ld"/>
<text x="308.3" y="165.6" font-size="27.5">9</text>
<text x="307.75" y="197.25" font-size="27.5">10</text>
<line x1="198" y1="111.6" x2="304.2" y2="156.3" class="ld"/>
<path d="M308.7 156.3 H304.2 V188.8 H309" class="bk"/>
<text x="323" y="270.5" font-size="28">A</text>
<line x1="315.8" y1="260" x2="315.8" y2="290" class="ld"/>
<path d="M314.2 280 L317.4 280 L315.8 299.5 Z" class="k"/>
<text x="9.3" y="548.55" font-size="27.5">4</text>
<line x1="20" y1="525.3" x2="37.7" y2="497" class="ld"/>
<text x="8.15" y="596.5" font-size="27.5">3</text>
<text x="8.15" y="619" font-size="27.5">2</text>
<text x="9.4" y="648.25" font-size="27.5">1</text>
<path d="M22 584 H24.5 V612 H22" class="bk"/>
<line x1="24.5" y1="584" x2="43" y2="550.5" class="ld"/>
<line x1="23.3" y1="637.5" x2="67.3" y2="497" class="ld"/>
<text x="320.5" y="459.4" font-size="27.5">11</text>
<line x1="240.4" y1="477.6" x2="321" y2="453" class="ld"/>
<text x="510.15" y="577.4" font-size="27.5">31</text>
<line x1="473.8" y1="538.8" x2="510.4" y2="560" class="ld"/>
<text x="545.25" y="66.9" font-size="26.5">A</text>
<text x="380.15" y="403.25" font-size="27.5">12</text>
<line x1="394.5" y1="376" x2="412.8" y2="327.7" class="ld"/>
<text x="436.4" y="403.25" font-size="27.5">13</text>
<line x1="451" y1="378.5" x2="428.6" y2="325.8" class="ld"/>
<text x="661.4" y="319.55" font-size="27.5">17</text>
<line x1="557.5" y1="265.5" x2="664" y2="310" class="ld"/>
<text x="668.15" y="369.55" font-size="27.5">6</text>
<text x="595.9" y="398.25" font-size="27.5">14</text>
<line x1="562.5" y1="384.5" x2="599.5" y2="388.8" class="ld"/>
<text x="632.65" y="397.05" font-size="27.5">15</text>
<line x1="650" y1="402.5" x2="621.3" y2="435" class="ld"/>
<line x1="650" y1="402.5" x2="710" y2="437.5" class="ld"/>
<text x="707" y="397.05" font-size="27.5">16</text>
<line x1="722.5" y1="401.3" x2="738.8" y2="431.3" class="ld"/>
<text x="590.35" y="575.85" font-size="27.5">11</text>
<line x1="606" y1="551" x2="619.3" y2="514.8" class="ld"/>
<text x="647.75" y="575.85" font-size="27.5">30</text>
<line x1="662.8" y1="551" x2="651" y2="507.4" class="ld"/>
<line x1="662.8" y1="551" x2="688" y2="502.4" class="ld"/>
<text x="733" y="282.05" font-size="27.5">19</text>
<line x1="767.5" y1="274.3" x2="803.8" y2="278.8" class="ld"/>
<text x="735.8" y="320.75" font-size="27.5">18</text>
<line x1="767.5" y1="311.3" x2="860" y2="320.5" class="ld"/>
<text x="771.35" y="35.6" font-size="27.5">21</text>
<text x="768.9" y="60.15" font-size="27.5">20</text>
<text x="769.4" y="84.15" font-size="27.5">23</text>
<path d="M803 25 H806.3 V74.3 H803 M803 51.3 H806.3" class="bk"/>
<line x1="806.3" y1="25" x2="836.3" y2="67.5" class="ld"/>
<text x="768.75" y="114.55" font-size="27.5">22</text>
<text x="769.5" y="138.9" font-size="27.5">21</text>
<text x="767.5" y="162.05" font-size="27.5">20</text>
<path d="M801 103.8 H804.5 V152 H801 M801 129.5 H804.5" class="bk"/>
<line x1="804.5" y1="103.8" x2="846.3" y2="78.8" class="ld"/>
<text x="814" y="26.7" font-size="27.5">24</text>
<line x1="831.3" y1="30" x2="856.3" y2="43.8" class="ld"/>
<text x="893.5" y="27.4" font-size="27.5">25</text>
<line x1="907.5" y1="28.8" x2="901.3" y2="66.3" class="ld"/>
<text x="960.65" y="32.65" font-size="27.5">26</text>
<text x="960.65" y="63" font-size="27.5">27</text>
<path d="M961.3 24.5 H955.5 V53.3 H961.3" class="bk"/>
<line x1="955.5" y1="24.5" x2="930" y2="52.5" class="ld"/>
<text x="960.05" y="314.55" font-size="27.5">32</text>
<line x1="956.3" y1="306.3" x2="927" y2="317" class="ld"/>
<text x="958.8" y="408" font-size="27.5">21</text>
<text x="960.4" y="435.25" font-size="27.5">28</text>
<text x="960.4" y="463.25" font-size="27.5">29</text>
<path d="M958.8 400 H953.8 V428.8" class="bk"/>
<line x1="955.2" y1="429.2" x2="928.8" y2="439.6" class="ld"/>
<line x1="957" y1="455.5" x2="928" y2="470" class="ld"/>
<text x="846" y="563.25" font-size="27.5">23</text>
<line x1="868.8" y1="540" x2="922.5" y2="487.5" class="ld"/>
<text x="915.15" y="543.25" font-size="27.5">4</text>
<text x="899.9" y="566.8" font-size="27.5">20</text>
<text x="900.4" y="593.5" font-size="27.5">21</text>
<path d="M933.8 533.8 H937.5 V584.5 H933.8 M933.8 557.5 H937.5" class="bk"/>
<line x1="937.5" y1="533.8" x2="951.3" y2="492.5" class="ld"/>
</svg>
</body></html>
